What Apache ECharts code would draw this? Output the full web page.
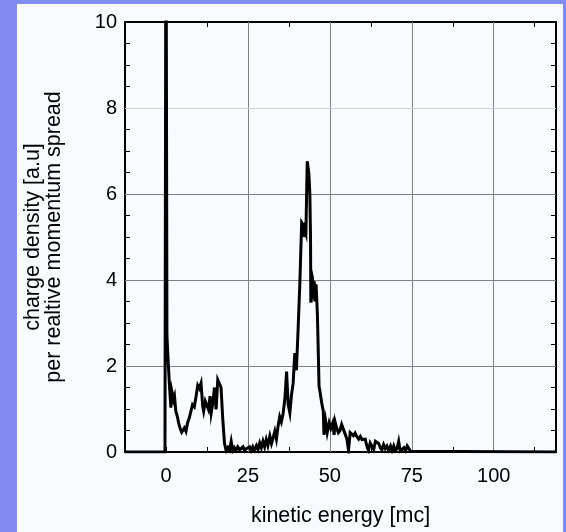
<!DOCTYPE html>
<html>
<head>
<meta charset="utf-8">
<script src="https://cdn.jsdelivr.net/npm/echarts@6/dist/echarts.min.js"></script>
<style>
  html, body { margin: 0; padding: 0; }
  body { width: 566px; height: 532px; background: #808cf0; position: relative; overflow: hidden; }
  #panel { position: absolute; left: 17px; top: 4px; width: 546px; height: 528px; background: #f8fcff; }
  #chart { position: absolute; left: 0; top: 0; width: 566px; height: 532px; }
</style>
</head>
<body>
<div id="panel"></div>
<div id="chart"></div>
<script>
// Electron spectrum: kinetic energy (mc) vs charge density per relative momentum spread
const energy = [
  -12.5, -0.3, 0, 0.3, 0.68, 1.1, 1.5, 1.8, 2.3, 2.6, 3.0, 3.5, 3.85, 4.3, 4.8, 5.2, 5.6, 6.1, 6.6, 7.1,
  7.6, 8.1, 8.65, 9.2, 9.7, 10.2, 10.7, 11.2, 11.5, 12.0, 12.4, 12.95, 13.46, 13.8, 14.3, 14.8, 15.3, 15.8, 16.3, 16.8,
  17.3, 17.85, 18.4, 18.9, 19.4, 19.9, 20.4, 20.9, 21.4, 21.9, 22.5, 23.0, 23.5, 24.0, 24.5, 25.0, 25.5, 26.0, 26.5, 27.0,
  27.6, 28.1, 28.6, 29.1, 29.6, 30.1, 30.6, 31.1, 31.7, 32.2, 32.7, 33.2, 33.7, 34.2, 34.7, 35.2, 35.75, 36.3, 36.8, 37.3,
  37.8, 38.3, 38.8, 39.3, 39.8, 40.35, 40.85, 41.4, 41.9, 42.2, 42.4, 42.7, 42.9, 43.1, 43.4, 43.6, 43.9, 44.1, 44.2, 44.4,
  44.7, 44.95, 45.25, 45.5, 45.8, 46.2, 46.5, 46.7, 47.0, 47.5, 48.0, 48.2, 48.7, 49.2, 49.8, 50.3, 50.9, 51.3, 51.6, 52.1,
  52.6, 53.1, 53.6, 54.1, 54.7, 55.2, 55.7, 56.2, 56.7, 57.2, 57.7, 58.2, 58.8, 59.3, 59.8, 60.3, 60.8, 61.3, 61.8, 62.3,
  62.8, 63.4, 63.9, 64.4, 64.9, 65.4, 65.9, 66.4, 66.9, 67.4, 67.9, 68.5, 69.0, 69.5, 70.0, 70.5, 71.0, 71.5, 72.05, 72.6,
  73.1, 73.6, 74.1, 74.6, 75.1, 119
];
const density = [
  0, 0, 14, 2.7, 2.1, 1.5, 1.03, 1.41, 1.22, 1.3, 0.95, 0.82, 0.68, 0.55, 0.46, 0.47, 0.56, 0.48, 0.68, 0.79,
  0.83, 1.1, 1.05, 1.3, 1.55, 1.48, 1.6, 1.07, 0.95, 1.18, 1.22, 0.99, 1.3, 0.91, 1.14, 1.5, 0.99, 1.68, 1.72, 1.5,
  0.8, 0.2, 0.02, 0.1, 0.04, 0.25, 0.02, 0.1, 0.04, 0.12, 0.05, 0.08, 0.12, 0.03, 0.08, 0.05, 0.12, 0.02, 0.12, 0.04,
  0.15, 0.06, 0.21, 0.1, 0.25, 0.12, 0.29, 0.15, 0.37, 0.2, 0.33, 0.48, 0.3, 0.6, 0.82, 0.7, 0.9, 1.25, 1.87, 1.1,
  0.91, 1.33, 1.6, 2.3, 1.9, 2.92, 3.93, 5.34, 5.28, 5.0, 5.17, 5.09, 5.95, 6.76, 6.72, 6.48, 6.0, 5.0, 3.47, 4.16,
  4.05, 3.8, 3.97, 3.5, 3.9, 3.2, 2.23, 1.53, 1.4, 1.15, 0.95, 0.4, 0.72, 0.45, 0.68, 0.55, 0.68, 0.4, 0.7, 0.55,
  0.45, 0.5, 0.64, 0.6, 0.41, 0.3, 0.04, 0.45, 0.41, 0.38, 0.44, 0.36, 0.3, 0.36, 0.29, 0.3, 0.3, 0.14, 0.03, 0.21,
  0.14, 0.06, 0.25, 0.29, 0.2, 0.1, 0.05, 0.17, 0.08, 0.14, 0.04, 0.14, 0.02, 0.14, 0.03, 0.08, 0.25, 0.02, 0.06, 0.1,
  0.03, 0.14, 0.1, 0.02, 0, 0
];

// Axis ranges and grid positions
const xRange = [-12.5, 119];
const yRange = [0, 10];
const xGridValues = [25, 50, 75, 100];
const yGridValues = [2, 4, 6, 8];
const xLabelValues = [0, 25, 50, 75, 100];

const FONT = '"Liberation Sans", Arial, Helvetica, sans-serif';
const chart = echarts.init(document.getElementById('chart'), null, { renderer: 'canvas' });

const points = energy.map((x, i) => [x, density[i]]);
const gridLines = [
  ...xGridValues.map(v => ({ xAxis: v, lineStyle: { color: '#808080', width: 1, type: 'solid' } })),
  ...yGridValues.map(v => ({ yAxis: v, lineStyle: { color: v === 8 ? '#d2d2d2' : '#808080', width: 1, type: 'solid' } }))
];

const tickStyle = { show: true, inside: true, length: 5, lineStyle: { color: '#000', width: 1 } };
const edge = { show: true, onZero: false, lineStyle: { color: '#000', width: 2 } };

chart.setOption({
  animation: false,
  backgroundColor: 'transparent',
  grid: { left: 125, top: 22, right: 10, bottom: 79, containLabel: false },
  xAxis: [
    {
      type: 'value', position: 'bottom', min: xRange[0], max: xRange[1], interval: 12.5,
      axisLine: edge, axisTick: tickStyle, splitLine: { show: false },
      axisLabel: {
        margin: 14, color: '#000', fontFamily: FONT, fontSize: 20,
        formatter: v => (xLabelValues.includes(v) ? String(v) : '')
      },
      name: 'kinetic energy [mc]', nameLocation: 'middle', nameGap: 53,
      nameTextStyle: { color: '#000', fontFamily: FONT, fontSize: 21.5 }
    },
    {
      type: 'value', position: 'top', min: xRange[0], max: xRange[1], interval: 12.5,
      axisLine: edge, axisTick: tickStyle, axisLabel: { show: false }, splitLine: { show: false }
    }
  ],
  yAxis: [
    {
      type: 'value', position: 'left', min: yRange[0], max: yRange[1], interval: 2,
      axisLine: edge, axisTick: tickStyle,
      minorTick: { show: true, splitNumber: 4, length: 5, lineStyle: { color: '#000', width: 1 } },
      splitLine: { show: false },
      axisLabel: { margin: 8, color: '#000', fontFamily: FONT, fontSize: 20 },
      name: 'charge density [a.u]\nper realtive momentum spread',
      nameLocation: 'middle', nameRotate: 90, nameGap: 60,
      nameTextStyle: { color: '#000', fontFamily: FONT, fontSize: 21.5, lineHeight: 21, align: 'center' }
    },
    {
      type: 'value', position: 'right', min: yRange[0], max: yRange[1], interval: 2,
      axisLine: edge, axisTick: tickStyle,
      minorTick: { show: true, splitNumber: 4, length: 5, lineStyle: { color: '#000', width: 1 } },
      splitLine: { show: false }, axisLabel: { show: false }
    }
  ],
  series: [
    {
      name: 'grid', type: 'line', data: [], z: 1, silent: true,
      markLine: { silent: true, symbol: 'none', label: { show: false }, animation: false, data: gridLines }
    },
    {
      name: 'spectrum', type: 'line', data: points, z: 5,
      showSymbol: false, clip: true, smooth: false,
      lineStyle: { color: '#000', width: 3, join: 'miter' }
    }
  ]
});
</script>
</body>
</html>
